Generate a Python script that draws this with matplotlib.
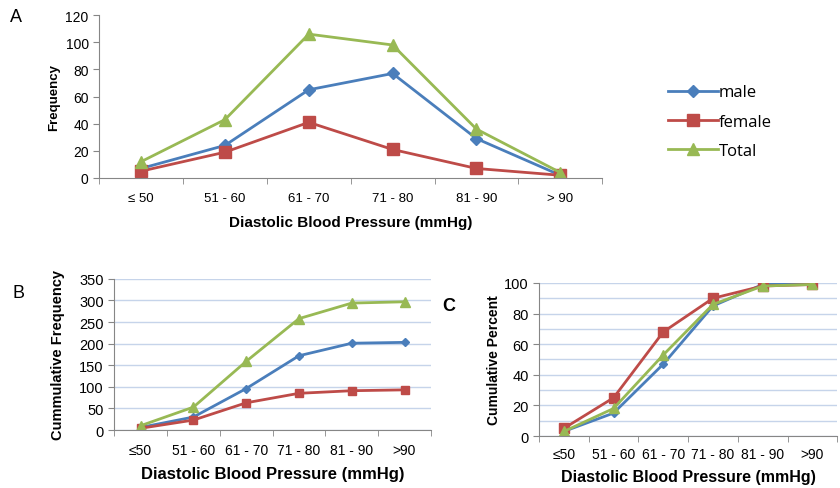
import numpy as np
import matplotlib
matplotlib.use("Agg")
import matplotlib.pyplot as plt

plt.rcParams['font.family'] = ['Liberation Sans', 'DejaVu Sans']

# data
cats_a = ["≤ 50", "51 - 60", "61 - 70", "71 - 80", "81 - 90", "> 90"]
cats_bc = ["≤50", "51 - 60", "61 - 70", "71 - 80", "81 - 90", ">90"]

male_freq = [7, 24, 65, 77, 29, 2]
female_freq = [5, 19, 41, 21, 7, 2]
total_freq = [12, 43, 106, 98, 36, 4]

male_cum = [6, 30, 96, 172, 201, 203]
female_cum = [4, 23, 63, 85, 91, 93]
total_cum = [10, 53, 159, 258, 294, 297]

male_pct = [3, 15, 47, 85, 99, 100]
female_pct = [5, 25, 68, 90, 98, 99]
total_pct = [3, 18, 53, 86, 98, 99]

BLUE = "#4a7ebb"
RED = "#be4b48"
GREEN = "#98b954"
GRID = "#c6d4ea"
AX = "#868686"

fig = plt.figure(figsize=(8.4, 4.89), dpi=100)


def style_axes(ax, n, grid_step=None, pad=6):
    for s in ("top", "right"):
        ax.spines[s].set_visible(False)
    for s in ("left", "bottom"):
        ax.spines[s].set_color(AX)
    ax.set_xticks(np.arange(n + 1) - 0.5, minor=True)
    ax.set_xticks(np.arange(n))
    ax.tick_params(axis="x", which="major", length=0, pad=pad)
    ax.tick_params(axis="x", which="minor", length=4, color=AX, direction="out")
    ax.tick_params(axis="y", length=4, color=AX)
    if grid_step:
        ax.set_yticks(np.arange(0, ax.get_ylim()[1] + 1, grid_step), minor=True)
        ax.yaxis.grid(True, which="both", color=GRID, lw=1)
        ax.tick_params(axis="y", which="minor", length=0)
        ax.set_axisbelow(True)


x = np.arange(6)

# ---- A
ax = fig.add_axes([0.118, 0.634, 0.599, 0.333])
ax.plot(x, male_freq, color=BLUE, marker="D", ms=6, lw=2, label="male")
ax.plot(x, female_freq, color=RED, marker="s", ms=8, lw=2, label="female")
ax.plot(x, total_freq, color=GREEN, marker="^", ms=8, lw=2, label="Total")
ax.set_ylim(0, 120)
ax.set_yticks(range(0, 121, 20))
ax.set_xlim(-0.5, 5.16)
style_axes(ax, 6, pad=10)
ax.set_xticklabels(cats_a, fontsize=9.5)
ax.tick_params(axis="y", labelsize=10)
ax.set_ylabel("Frequency", fontsize=9.5, fontweight="bold")
ax.set_xlabel("Diastolic Blood Pressure (mmHg)", fontsize=11, fontweight="bold", labelpad=8)
ax.legend(loc="center left", bbox_to_anchor=(1.1, 0.345), frameon=False,
          prop={"family": ["Open Sans", "DejaVu Sans"], "size": 12},
          handlelength=3.0, labelspacing=0.8, handletextpad=0.05)
fig.text(0.012, 0.955, "A", fontsize=13)

# ---- B
ax = fig.add_axes([0.136, 0.1186, 0.377, 0.309])
ax.plot(x, male_cum, color=BLUE, marker="D", ms=4.5, lw=2)
ax.plot(x, female_cum, color=RED, marker="s", ms=6, lw=2)
ax.plot(x, total_cum, color=GREEN, marker="^", ms=6.5, lw=2)
ax.set_ylim(0, 350)
ax.set_xlim(-0.5, 5.5)
ax.set_yticks(range(0, 351, 50))
style_axes(ax, 6, grid_step=50, pad=9)
ax.set_xticklabels(cats_bc, fontsize=10)
ax.tick_params(axis="y", labelsize=10.5)
ax.set_ylabel("Cummulative Frequency", fontsize=10.5, fontweight="bold", labelpad=10)
ax.set_xlabel("Diastolic Blood Pressure (mmHg)", fontsize=12, fontweight="bold", labelpad=7)
fig.text(0.015, 0.39, "B", fontsize=13)

# ---- C
ax = fig.add_axes([0.6417, 0.1063, 0.355, 0.313])
ax.plot(x, male_pct, color=BLUE, marker="D", ms=4.5, lw=2)
ax.plot(x, female_pct, color=RED, marker="s", ms=6.5, lw=2)
ax.plot(x, total_pct, color=GREEN, marker="^", ms=6.5, lw=2)
ax.set_ylim(0, 100)
ax.set_xlim(-0.5, 5.5)
ax.set_yticks(range(0, 101, 20))
style_axes(ax, 6, grid_step=10, pad=8)
ax.set_xticklabels(cats_bc, fontsize=10)
ax.tick_params(axis="y", labelsize=10.5)
ax.set_ylabel("Cumulative Percent", fontsize=10, fontweight="bold", labelpad=2)
ax.set_xlabel("Diastolic Blood Pressure (mmHg)", fontsize=11.5, fontweight="bold", labelpad=6)
fig.text(0.527, 0.365, "C", fontsize=13, fontweight="bold")

fig.savefig("out.png", dpi=100)
